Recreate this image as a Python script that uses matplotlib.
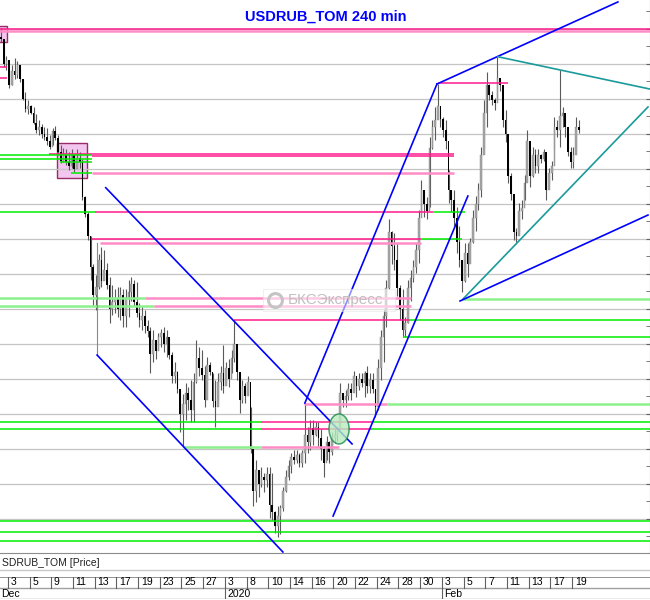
import numpy as np
import pandas as pd
import matplotlib
matplotlib.use("Agg")
import matplotlib.pyplot as plt
from matplotlib.patches import Rectangle, Ellipse
from matplotlib.lines import Line2D

plt.rcParams['font.family'] = ['Liberation Sans', 'DejaVu Sans']

# trading days shown on the chart (4 bars of 240 min per day, last day 3 bars)
trading_days = [
    "2019-12-02", "2019-12-03", "2019-12-04", "2019-12-05", "2019-12-06",
    "2019-12-09", "2019-12-10", "2019-12-11", "2019-12-12", "2019-12-13",
    "2019-12-16", "2019-12-17", "2019-12-18", "2019-12-19", "2019-12-20",
    "2019-12-23", "2019-12-24", "2019-12-25", "2019-12-26", "2019-12-27",
    "2019-12-30",
    "2020-01-03", "2020-01-06", "2020-01-08", "2020-01-09", "2020-01-10",
    "2020-01-13", "2020-01-14", "2020-01-15", "2020-01-16", "2020-01-17",
    "2020-01-20", "2020-01-21", "2020-01-22", "2020-01-23", "2020-01-24",
    "2020-01-27", "2020-01-28", "2020-01-29", "2020-01-30", "2020-01-31",
    "2020-02-03", "2020-02-04", "2020-02-05", "2020-02-06", "2020-02-07",
    "2020-02-10", "2020-02-11", "2020-02-12", "2020-02-13", "2020-02-14",
    "2020-02-17", "2020-02-18", "2020-02-19",
]
bars_per_day = 4

# 240 min candles
highs = [
    64.49, 64.51, 64.37, 64.31, 64.21, 64.24, 64.29, 64.27, 64.23, 64.14,
    64.05, 63.99, 63.96, 63.94, 63.89, 63.85, 63.82, 63.80, 63.79, 63.74,
    63.79, 63.81, 63.74, 63.67, 63.65, 63.64, 63.62, 63.64, 63.60, 63.64,
    63.62, 63.57, 63.31, 63.19, 63.02, 62.82, 62.74, 62.89, 62.94, 62.92,
    62.83, 62.73, 62.67, 62.64, 62.66, 62.66, 62.64, 62.64, 62.71, 62.73,
    62.71, 62.69, 62.54, 62.52, 62.49, 62.42, 62.37, 62.35, 62.28, 62.33,
    62.36, 62.37, 62.35, 62.30, 62.19, 62.12, 62.06, 61.92, 61.89, 61.97,
    61.94, 61.99, 62.04, 62.28, 62.23, 62.21, 62.09, 62.16, 62.12, 62.04,
    61.99, 62.04, 62.09, 62.24, 62.12, 62.14, 62.21, 62.42, 62.24, 62.04,
    61.99, 61.97, 62.02, 61.80, 61.49, 61.42, 61.35, 61.37, 61.33, 61.37,
    61.37, 61.33, 61.06, 61.09, 61.10, 61.23, 61.35, 61.42, 61.47, 61.49,
    61.49, 61.47, 61.49, 61.83, 61.66, 61.71, 61.71, 61.69, 61.69, 61.64,
    61.52, 61.59, 61.56, 61.62, 61.64, 61.66, 61.97, 61.90, 61.92, 61.97,
    61.97, 62.06, 62.02, 62.04, 62.04, 62.06, 62.09, 62.04, 62.04, 61.92,
    62.14, 62.35, 62.49, 62.71, 63.14, 63.06, 63.04, 62.97, 62.67, 62.64,
    62.44, 62.71, 62.78, 62.85, 62.97, 63.21, 63.42, 63.35, 63.30, 63.73,
    63.85, 63.94, 64.11, 63.92, 63.87, 63.85, 63.49, 63.35, 63.35, 63.23,
    63.09, 62.85, 62.97, 62.97, 63.01, 63.21, 63.31, 63.40, 63.66, 63.99,
    64.19, 64.11, 64.06, 64.01, 64.30, 64.14, 63.92, 63.92, 63.64, 63.47,
    63.28, 63.08, 63.26, 63.28, 63.46, 63.78, 63.64, 63.66, 63.64, 63.64,
    63.61, 63.64, 63.53, 63.51, 63.56, 63.87, 63.85, 64.21, 63.94, 63.87,
    63.76, 63.66, 63.66, 63.87, 63.85,
]
lows = [
    64.40, 64.41, 64.23, 64.21, 64.08, 64.10, 64.14, 64.15, 64.12, 63.99,
    63.91, 63.89, 63.89, 63.82, 63.76, 63.74, 63.72, 63.71, 63.67, 63.64,
    63.67, 63.71, 63.61, 63.54, 63.55, 63.53, 63.49, 63.51, 63.48, 63.53,
    63.51, 63.28, 63.16, 62.99, 62.71, 62.53, 62.49, 62.64, 62.66, 62.71,
    62.64, 62.40, 62.46, 62.47, 62.44, 62.42, 62.37, 62.37, 62.44, 62.56,
    62.52, 62.44, 62.37, 62.35, 62.33, 62.30, 62.04, 62.12, 62.14, 62.21,
    62.23, 62.19, 62.16, 62.14, 61.97, 61.97, 61.90, 61.62, 61.52, 61.71,
    61.78, 61.69, 61.69, 61.97, 62.02, 61.99, 61.80, 61.99, 62.03, 61.80,
    61.66, 61.85, 61.92, 61.90, 61.97, 61.94, 62.04, 62.12, 61.99, 61.76,
    61.83, 61.83, 61.90, 61.47, 61.09, 61.12, 61.16, 61.23, 61.19, 61.23,
    61.01, 60.99, 60.90, 60.87, 60.89, 61.06, 61.19, 61.28, 61.33, 61.39,
    61.40, 61.37, 61.37, 61.40, 61.47, 61.49, 61.53, 61.59, 61.52, 61.42,
    61.30, 61.42, 61.40, 61.46, 61.54, 61.56, 61.71, 61.80, 61.80, 61.85,
    61.85, 61.92, 61.87, 61.92, 61.94, 61.87, 61.90, 61.90, 61.90, 61.73,
    61.78, 61.99, 62.12, 62.37, 62.64, 62.82, 62.78, 62.59, 62.42, 62.30,
    62.30, 62.40, 62.56, 62.69, 62.76, 62.83, 63.19, 63.16, 63.14, 63.23,
    63.64, 63.71, 63.87, 63.80, 63.73, 63.64, 63.26, 63.19, 63.09, 62.90,
    62.80, 62.62, 62.69, 62.73, 62.94, 62.97, 63.06, 63.21, 63.30, 63.64,
    63.80, 63.99, 63.96, 63.92, 63.99, 64.06, 63.80, 63.69, 63.40, 63.28,
    62.99, 62.98, 63.05, 63.14, 63.28, 63.51, 63.37, 63.44, 63.47, 63.47,
    63.54, 63.56, 63.28, 63.39, 63.42, 63.64, 63.73, 63.66, 63.80, 63.73,
    63.59, 63.51, 63.51, 63.64, 63.76,
]
closes = [
    64.44, 64.43, 64.25, 64.28, 64.10, 64.20, 64.17, 64.24, 64.14, 64.00,
    63.93, 63.95, 63.90, 63.83, 63.78, 63.80, 63.75, 63.73, 63.70, 63.66,
    63.77, 63.72, 63.62, 63.56, 63.60, 63.55, 63.52, 63.60, 63.50, 63.58,
    63.55, 63.30, 63.18, 63.02, 62.80, 62.60, 62.66, 62.85, 62.70, 62.78,
    62.67, 62.50, 62.55, 62.58, 62.50, 62.60, 62.45, 62.58, 62.62, 62.68,
    62.55, 62.47, 62.42, 62.45, 62.38, 62.34, 62.18, 62.28, 62.20, 62.30,
    62.33, 62.25, 62.30, 62.17, 62.02, 62.05, 61.93, 61.75, 61.82, 61.90,
    61.85, 61.78, 61.98, 62.15, 62.08, 62.03, 61.85, 62.10, 62.05, 61.84,
    61.80, 61.98, 62.04, 61.95, 62.08, 62.00, 62.15, 62.25, 62.05, 61.85,
    61.95, 61.88, 61.98, 61.50, 61.20, 61.35, 61.25, 61.30, 61.28, 61.32,
    61.10, 61.05, 60.95, 61.02, 61.08, 61.20, 61.30, 61.38, 61.44, 61.42,
    61.46, 61.40, 61.47, 61.60, 61.55, 61.65, 61.60, 61.66, 61.58, 61.50,
    61.40, 61.55, 61.48, 61.58, 61.60, 61.64, 61.90, 61.85, 61.88, 61.93,
    61.90, 62.02, 61.95, 62.00, 61.97, 62.04, 61.95, 61.99, 61.93, 61.80,
    62.08, 62.30, 62.45, 62.65, 63.05, 62.95, 62.85, 62.65, 62.50, 62.35,
    62.40, 62.65, 62.72, 62.80, 62.92, 63.15, 63.35, 63.25, 63.20, 63.65,
    63.80, 63.85, 63.95, 63.86, 63.78, 63.70, 63.35, 63.28, 63.15, 62.98,
    62.85, 62.70, 62.90, 62.82, 62.98, 63.15, 63.25, 63.35, 63.60, 63.90,
    64.10, 64.03, 63.99, 63.97, 64.15, 64.10, 63.85, 63.75, 63.45, 63.32,
    63.05, 63.02, 63.20, 63.22, 63.40, 63.70, 63.45, 63.60, 63.52, 63.60,
    63.57, 63.62, 63.35, 63.47, 63.52, 63.80, 63.78, 63.88, 63.90, 63.80,
    63.62, 63.55, 63.60, 63.80, 63.78,
]
first_open = 64.46
opens = [first_open] + closes[:-1]

# horizontal levels drawn on the chart: price, from bar, to bar, style
level_price = [64.502, 64.486, 64.23, 64.148, 64.112,
               63.61, 63.59, 63.598, 63.572, 63.548, 63.47, 63.47,
               63.19, 63.19, 63.19, 62.998, 62.998, 62.968,
               62.58, 62.58, 62.518, 62.518, 62.418, 62.418, 62.30, 62.568,
               61.821, 61.821, 61.69, 61.69, 61.69, 61.646, 61.646, 61.646,
               61.516, 61.516, 60.989, 60.909, 60.84]
level_from = [0, 0, 0, 0, 162.1,
              18.7, 34.5, 0, 0, 22.7, 34.5, 26.8,
              0, 35.6, 160.2, 34.5, 155.8, 37.5,
              0, 54.1, 0, 57.4, 86.9, 151.8, 149.2, 171.3,
              112.7, 143.3, 0, 96.8, 138.1, 0, 96.8, 137.8,
              68.1, 96.8, 0, 0, 0]
level_to = [241, 241, 3.1, 3.1, 187.9,
            168.0, 168.0, 34.5, 34.5, 34.5, 168.0, 34.5,
            35.6, 160.2, 172.0, 155.8, 170.9, 155.8,
            54.1, 152.1, 57.4, 152.1, 151.8, 241, 241, 241,
            143.3, 241, 96.8, 138.1, 241, 96.8, 137.8, 241,
            96.8, 125.6, 241, 241, 241]
level_kind = ["pink", "lpink", "pink", "pink", "pink",
              "pink", "pink", "green", "green", "green", "lpink", "green",
              "green", "pink", "green", "pink", "green", "lpink",
              "lgreen", "lpink", "lgreen", "lpink", "pink", "green", "green", "lgreen",
              "lpink", "lgreen", "green", "pink", "green", "green", "pink", "green",
              "lgreen", "lpink", "green", "green", "green"]
level_style = {"pink": ("#ff1a8c", 1.1), "lpink": ("#ff8cc6", 1.8),
               "green": ("#00ee00", 1.1), "lgreen": ("#8cf08c", 1.8)}

# trend lines: bar/price of both ends
trend_x0 = [39.6, 36.4, 113.0, 161.7, 123.4, 184.1, 171.3, 170.2]
trend_p0 = [63.366, 62.171, 61.828, 64.107, 61.021, 64.302, 62.571, 62.557]
trend_x1 = [130.4, 104.9, 161.7, 228.4, 173.1, 240.2, 239.5, 239.5]
trend_p1 = [61.536, 60.764, 64.107, 64.693, 63.307, 64.071, 63.943, 63.171]
trend_color = ["#0000ff", "#0000ff", "#0000ff", "#0000ff", "#0000ff",
               "#1a9a9a", "#1a9a9a", "#0000ff"]

# marked zones (bar from, bar to, price low, price high)
box_x = [0.0, 21.5]
box_w = [3.1, 11.1]
box_lo = [64.409, 63.438]
box_hi = [64.521, 63.683]

fig = plt.figure(figsize=(6.5, 6.0), dpi=100)
ax = fig.add_axes([0, 47 / 600, 649.5 / 650, 553 / 600])
ax.set_xlim(0.605, 240.06)
ax.set_ylim(60.757, 64.707)

ax.set_yticks(np.arange(61.0, 64.51, 0.25))
ax.set_yticks(np.arange(60.875, 64.7, 0.125), minor=True)
ax.yaxis.tick_right()
ax.tick_params(axis="y", which="both", direction="in", length=3, color="#606060",
               labelright=False)
ax.tick_params(axis="x", bottom=False, labelbottom=False)
ax.grid(axis="y", color="#c4c4c4", lw=0.9, zorder=0)
for s in ["top", "left"]:
    ax.spines[s].set_visible(False)
for s in ["right", "bottom"]:
    ax.spines[s].set_color("#8c8c8c")

# zones
for x, w, lo, hi in zip(box_x, box_w, box_lo, box_hi):
    ax.add_patch(Rectangle((x, lo), w, hi - lo, facecolor="#f2c6ee",
                           edgecolor="#9a2a6a", lw=1.0, zorder=1.5))

# candles
idx = np.arange(len(closes))
o = np.array(opens)
c = np.array(closes)
up = c >= o
ax.vlines(idx, lows, highs, color="#5a5a5a", lw=0.8, zorder=2)
body_lo = np.minimum(o, c)
body_h = np.maximum(np.abs(c - o), 0.006)
ax.bar(idx[up], body_h[up], bottom=body_lo[up], width=0.62, color="#a6a6a6",
       edgecolor="#8a8a8a", lw=0.3, zorder=2.1)
ax.bar(idx[~up], body_h[~up], bottom=body_lo[~up], width=0.62, color="#000000",
       lw=0, zorder=2.1)

# levels
for p, a, b, k in zip(level_price, level_from, level_to, level_kind):
    col, lw = level_style[k]
    ax.plot([a, b], [p, p], color=col, lw=lw, solid_capstyle="butt", zorder=3)

# trend lines
for x0, p0, x1, p1, col in zip(trend_x0, trend_p0, trend_x1, trend_p1, trend_color):
    ax.plot([x0, x1], [p0, p1], color=col, lw=1.2, zorder=4)
ax.plot([36.4, 36.4], [62.97, 62.171], color="#8a8a8a", lw=0.8, zorder=3)

ax.add_patch(Ellipse((125.6, 61.643), 7.4, 0.214, facecolor="#b8ecc0",
                     edgecolor="#1a8a4a", lw=1.1, alpha=0.8, zorder=4))

# watermark
ax.add_patch(Rectangle((97.6, 62.486), 48.6, 0.157, facecolor="white",
                       edgecolor="#e4e4e4", alpha=0.55, lw=0.8, zorder=5))
ax.plot([102.0], [62.564], marker="o", ms=10, mfc="none", mec="#c4c4c4",
        mew=2.2, zorder=6)
ax.text(106.8, 62.564, "БКСЭкспресс", color="#c0c0c0", fontsize=11,
        va="center", ha="left", zorder=6)

fig.text(326 / 650, 1 - 17 / 600, "USDRUB_TOM 240 min", color="#0000ff",
         fontsize=10.5, fontweight="bold", ha="center", va="center")

# bottom panel
fig.text(2 / 650, 1 - 563 / 600, "SDRUB_TOM [Price]", fontsize=7.5,
         ha="left", va="center", color="#202020")
fig.add_artist(Line2D([0, 1], [1 - 570 / 600] * 2, color="#c8c8c8", lw=1))

ax2 = fig.add_axes([0, 1 / 600, 1, 22.3 / 600])
ax2.set_xlim(0.605, 240.24)
ax2.set_ylim(0, 1)
ax2.axis("off")
ax2.axhline(1, color="#808080", lw=1.2)
ax2.axhline(0.49, color="#a0a0a0", lw=1)
ax2.axhline(0.0, color="#a0a0a0", lw=1)

dates = pd.to_datetime(trading_days)
for d in range(1, len(dates), 2):
    xb = d * bars_per_day - 0.5
    ax2.plot([xb, xb], [0.49, 1], color="#606060", lw=0.8)
    ax2.text(xb + 1.0, 0.74, str(dates[d].day), fontsize=7.5, va="center", ha="left")
ax2.text(1.0, 0.24, dates[0].strftime("%b"), fontsize=7.5, va="center", ha="left")
for d in range(1, len(dates)):
    if dates[d].month != dates[d - 1].month:
        xb = d * bars_per_day - 0.5
        lab = str(dates[d].year) if dates[d].month == 1 else dates[d].strftime("%b")
        ax2.plot([xb, xb], [0, 0.49], color="#606060", lw=0.8)
        ax2.text(xb + 1.0, 0.24, lab, fontsize=7.5, va="center", ha="left")

fig.savefig("out.png", dpi=100)
